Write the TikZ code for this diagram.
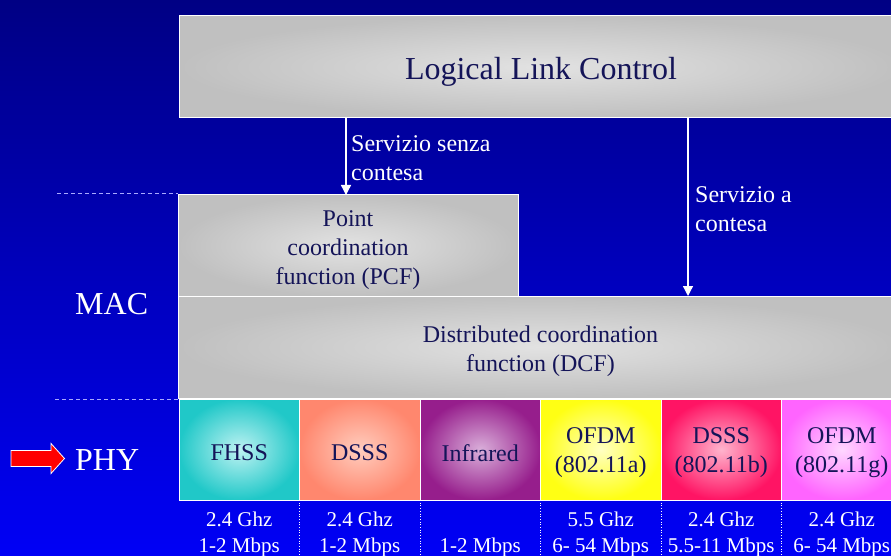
\documentclass[tikz,border=0pt]{standalone}
\usepackage{fontspec}
\setmainfont{Liberation Serif}
\usetikzlibrary{arrows.meta}
\definecolor{bgtop}{RGB}{0,0,132}
\definecolor{bgbot}{RGB}{0,0,246}
\definecolor{boxtext}{RGB}{20,20,88}
\definecolor{grayin}{RGB}{226,226,226}
\definecolor{grayout}{RGB}{192,192,192}
\definecolor{dashcol}{RGB}{170,170,255}
\definecolor{fhssout}{RGB}{32,200,200}
\definecolor{fhssin}{RGB}{190,242,242}
\definecolor{dsssout}{RGB}{255,135,110}
\definecolor{dsssin}{RGB}{255,205,190}
\definecolor{irout}{RGB}{150,30,140}
\definecolor{irin}{RGB}{218,175,218}
\definecolor{ofaout}{RGB}{255,255,20}
\definecolor{ofain}{RGB}{255,255,195}
\definecolor{dsbout}{RGB}{255,20,100}
\definecolor{dsbin}{RGB}{255,180,205}
\definecolor{ofgout}{RGB}{255,100,255}
\definecolor{ofgin}{RGB}{255,215,255}
\definecolor{redarrow}{RGB}{255,0,0}
\begin{document}
\begin{tikzpicture}[x=1pt,y=-1pt,
  boxbase/.style={draw=white, line width=1pt, inner sep=0pt, outer sep=0pt,
    shading=radial, anchor=north west},
  graybox/.style={boxbase, inner color=grayin, outer color=grayout},
  phybox/.style={boxbase, minimum width=120.5pt, minimum height=101pt},
  boxlabel/.style={text=boxtext, align=center, inner sep=0pt},
  midtext/.style={font=\fontsize{24}{29}\selectfont},
  bigtext/.style={font=\fontsize{32}{38}\selectfont},
  smalltext/.style={font=\fontsize{21}{26}\selectfont, text=white, align=center},
  whitetext/.style={text=white, align=left, anchor=west, inner sep=0pt, midtext},
  arr/.style={draw=white, line width=1.3pt, -{Triangle[width=10pt,length=10pt]}},
  dashline/.style={draw=dashcol, line width=1pt, dash pattern=on 4pt off 3pt},
  sepline/.style={draw=white, line width=0.7pt, dotted}]
\useasboundingbox (0,0) rectangle (891,556);
\clip (0,0) rectangle (891,556);
\fill[top color=bgtop, bottom color=bgbot] (0,0) rectangle (891,556);

% boxes
\node[graybox, minimum width=724pt, minimum height=102pt] (llc) at (179,16) {};
\node[graybox, minimum width=340pt, minimum height=101pt] (pcf) at (178,195) {};
\node[graybox, minimum width=725pt, minimum height=102pt] (dcf) at (178,296) {};
\node[boxlabel, bigtext] (llct) at ([yshift=-5pt]llc.center) {Logical Link Control};
\node[boxlabel, midtext] (pcft) at ([yshift=-4.5pt]pcf.center) {Point\\coordination\\function (PCF)};
\node[boxlabel, midtext] (dcft) at ([yshift=-4pt]dcf.center) {Distributed coordination\\function (DCF)};

% PHY boxes
\node[phybox, inner color=fhssin, outer color=fhssout] (p1) at (179,399) {};
\node[phybox, inner color=dsssin, outer color=dsssout] (p2) at (299.5,399) {};
\node[phybox, inner color=irin, outer color=irout] (p3) at (420,399) {};
\node[phybox, inner color=ofain, outer color=ofaout] (p4) at (540.5,399) {};
\node[phybox, inner color=dsbin, outer color=dsbout] (p5) at (661,399) {};
\node[phybox, inner color=ofgin, outer color=ofgout] (p6) at (781.5,399) {};
\node[boxlabel, midtext] (p1t) at ([yshift=-3.5pt]p1.center) {FHSS};
\node[boxlabel, midtext] (p2t) at ([yshift=-3.5pt]p2.center) {DSSS};
\node[boxlabel, midtext] (p3t) at ([yshift=-3.5pt]p3.center) {Infrared};
\node[boxlabel, midtext] (p4t) at ([yshift=-3.5pt]p4.center) {OFDM\\(802.11a)};
\node[boxlabel, midtext] (p5t) at ([yshift=-3.5pt]p5.center) {DSSS\\(802.11b)};
\node[boxlabel, midtext] (p6t) at ([yshift=-3.5pt]p6.center) {OFDM\\(802.11g)};

% arrows
\coordinate (c1) at (346,195);
\coordinate (c2) at (688,296);
\draw[arr] (c1 |- llc.south) -- (c1);
\draw[arr] (c2 |- llc.south) -- (c2);
\node[whitetext] (l1) at (351,158.5) {Servizio senza\\contesa};
\node[whitetext] (l2) at (695,209.5) {Servizio a\\contesa};

% dashed lines
\coordinate (d1) at (57,194);
\coordinate (d2) at (55,399);
\draw[dashline] (d1) -- (d1 -| pcf.west);
\draw[dashline] (d2) -- (d2 -| p1.west);

% labels
\node[bigtext, text=white, anchor=west, inner sep=0pt] (mac) at (75,304) {MAC};
\node[bigtext, text=white, anchor=west, inner sep=0pt] (phy) at (75,460) {PHY};
\draw[fill=redarrow, draw=white, line width=0.8pt]
  (11,450.5) -- (51,450.5) -- (51,443.5) -- (64.5,458.5) -- (51,473.5) -- (51,466.5) -- (11,466.5) -- cycle;

% separators
\foreach \n in {p2,p3,p4,p5,p6}{
  \draw[sepline] (\n.south west) -- ++(0,60);
}

% bottom text
\node[smalltext] (t1) at (p1.south |- 0,534) {2.4 Ghz\\1-2 Mbps};
\node[smalltext] (t2) at (p2.south |- 0,534) {2.4 Ghz\\1-2 Mbps};
\node[smalltext] (t3) at (p3.south |- 0,547) {1-2 Mbps};
\node[smalltext] (t4) at (p4.south |- 0,534) {5.5 Ghz\\6- 54 Mbps};
\node[smalltext] (t5) at (p5.south |- 0,534) {2.4 Ghz\\5.5-11 Mbps};
\node[smalltext] (t6) at (p6.south |- 0,534) {2.4 Ghz\\6- 54 Mbps};
\end{tikzpicture}
\end{document}
